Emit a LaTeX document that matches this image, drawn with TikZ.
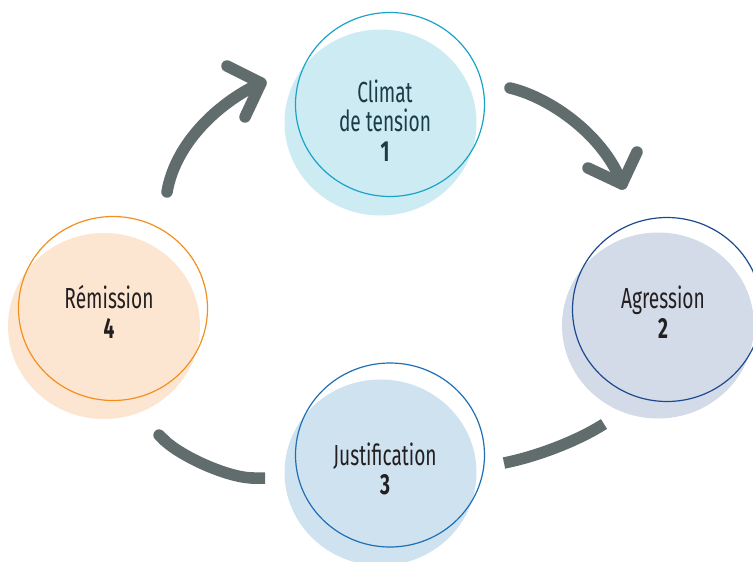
\documentclass[tikz,border=0pt]{standalone}
\usepackage{fontspec}
\setmainfont{Fira Sans}[FakeStretch=0.66]
\usetikzlibrary{shapes.geometric,calc,arrows.meta}

\definecolor{arrowgrey}{HTML}{616C6D}
\definecolor{tealline}{HTML}{1AA3C8}
\definecolor{tealfill}{HTML}{CDEBF2}
\definecolor{navyline}{HTML}{1D4A8C}
\definecolor{navyfill}{HTML}{D3DBE8}
\definecolor{blueline}{HTML}{1F6FB5}
\definecolor{bluefill}{HTML}{CFE2EF}
\definecolor{orangeline}{HTML}{F3901D}
\definecolor{orangefill}{HTML}{FCE6D2}
\definecolor{tealtext}{HTML}{1B3B45}
\definecolor{darktext}{HTML}{231F20}

\begin{document}
\begin{tikzpicture}[x=1pt,y=-1pt,
  blob/.style={ellipse, minimum width=192pt, minimum height=186pt, inner sep=0pt, draw=none},
  ring/.style={ellipse, minimum width=189pt, minimum height=184pt, inner sep=0pt, line width=1.2pt},
  steptext/.style={inner sep=0pt, align=center, font=\fontsize{29}{29.5}\selectfont},
  flow/.style={line width=11.5pt, draw=arrowgrey, line join=round},
]
\useasboundingbox[fill=white] (0,0) rectangle (753,562);

% soft discs behind each stage
\node[blob, fill=tealfill]   (f1) at (380.5,122.5) {};
\node[blob, fill=navyfill]   (f2) at (658,325.5) {};
\node[blob, fill=bluefill]   (f3) at (380.5,472.5) {};
\node[blob, fill=orangefill] (f4) at (104,326) {};

% outlined stages
\node[ring, draw=tealline]   (n1) at (390,104.5) {};
\node[ring, draw=navyline]   (n2) at (667,309.5) {};
\node[ring, draw=blueline]   (n3) at (390,455) {};
\node[ring, draw=orangeline] (n4) at (113,308.5) {};

% stage labels
\node[steptext, text=tealtext] (t1) at (385,120.5) {Climat\\de tension\\\textbf{1}};
\node[steptext, text=darktext] (t2) at (663,312) {Agression\\\textbf{2}};
\node[steptext, text=darktext] (t3) at (385,469) {Justification\\\textbf{3}};
\node[steptext, text=darktext] (t4) at (109,312) {Rémission\\\textbf{4}};

% arc ends and chevron arms
\coordinate (a1s) at (167,192);
\coordinate (a1e) at (261,83);
\coordinate (a1u) at (227,66);
\coordinate (a1d) at (245,117);
\coordinate (a2s) at (510,88);
\coordinate (a2e) at (622,184);
\coordinate (a2l) at (588,168);
\coordinate (a2r) at (637,152);
\coordinate (a3s) at (604,424);
\coordinate (a3e) at (504,463);
\coordinate (a4s) at (155,431);
\coordinate (a4e) at (265,478);

% 4 -> 1
\draw[flow, line cap=round] (a1s) .. controls (176,140) and (223,100) .. (a1e);
\draw[flow, line cap=round] (a1u) -- (a1e) -- (a1d);
% 1 -> 2
\draw[flow, line cap=round] (a2s) .. controls (552,98) and (605,137) .. (a2e);
\draw[flow, line cap=round] (a2l) -- (a2e) -- (a2r);
% 2 -> 3
\draw[flow, line cap=butt] (a3s) .. controls (579,440) and (539,456) .. (a3e);
% 3 -> 4 (round start, flat end)
\draw[flow, line cap=butt, {Round Cap}-{Butt Cap}] (a4s) .. controls (180,456) and (228,478) .. (a4e);
\end{tikzpicture}
\end{document}
